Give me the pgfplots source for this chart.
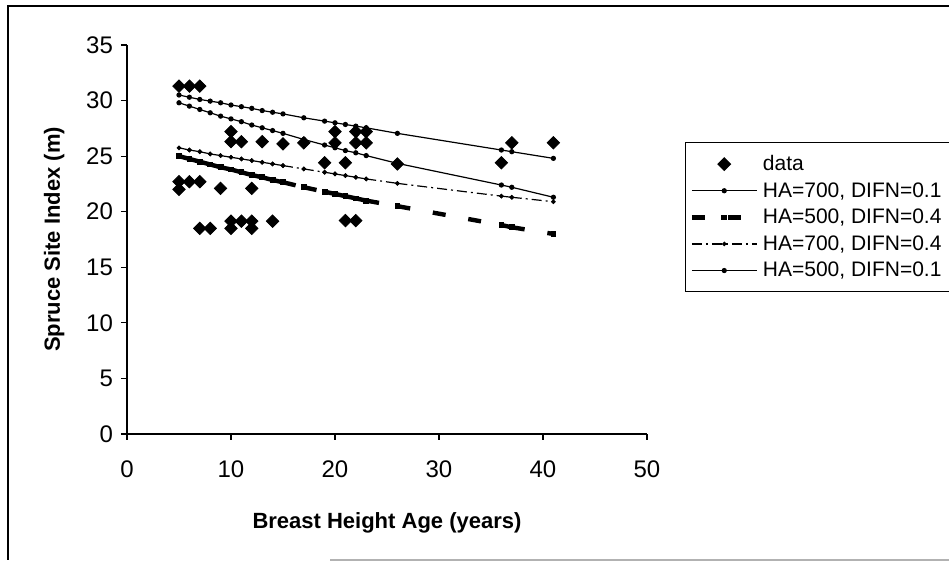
\documentclass[border=0pt]{standalone}
\usepackage{pgfplots}
\pgfplotsset{compat=1.18}
\usepackage{fontspec}
\setmainfont{Liberation Sans}
\begin{document}
\begin{tikzpicture}
\begin{axis}[
  at={(63.5pt,64pt)}, anchor=south west,
  scale only axis, width=260pt, height=194.5pt,
  xmin=0, xmax=50, ymin=0, ymax=35,
  axis lines=left, axis line style={-, line width=0.6pt},
  xtick={0,10,...,50}, ytick={0,5,...,35},
  tick align=outside, major tick length=3pt,
  tick style={black, line width=0.6pt},
  /pgf/number format/assume math mode=true,
  ticklabel style={font=\fontsize{12}{14}\selectfont},
  xticklabel style={yshift=-7pt},
  yticklabel style={xshift=-0.5pt},
  xlabel={Breast Height Age (years)},
  ylabel={Spruce Site Index (m)},
  label style={font=\bfseries\fontsize{11}{13}\selectfont},
  xlabel style={at={(axis description cs:0.5,-0.2288)}, anchor=center},
  ylabel style={at={(axis description cs:-0.1400,0.5)}, anchor=center},
  unbounded coords=jump,
  clip=false,
  legend style={at={(1.073,0.750)}, anchor=north west, draw=black, line width=0.6pt,
    font=\fontsize{10.5}{12}\selectfont, inner xsep=2pt, inner ysep=4pt,
    cells={inner ysep=0.8pt, text height=7.8pt, text depth=2.6pt}},
  legend cell align=left,
  legend image code/.code={\draw[mark repeat=2,mark phase=2] plot coordinates {(0pt,0pt) (16.25pt,0pt) (32.5pt,0pt)};},
]
% data
\addplot[only marks, mark=diamond*, mark size=3.1pt, mark options={xscale=1.333, fill=black, draw=black}] coordinates {
(5,31.3)(6,31.3)(7,31.3)
(10,27.2)(10,26.3)(11,26.3)(13,26.3)(15,26.1)(17,26.2)
(20,27.2)(20,26.2)(22,27.2)(23,27.2)(22,26.2)(23,26.2)
(19,24.4)(21,24.4)(26,24.3)(36,24.4)(37,26.2)(41,26.2)
(5,22.7)(5,22.0)(6,22.7)(7,22.7)(9,22.1)(12,22.1)
(7,18.5)(8,18.5)(10,19.15)(10,18.5)(11,19.15)(12,19.15)(12,18.5)(14,19.15)(21,19.2)(22,19.2)
};
\addlegendentry{data}
% HA=700, DIFN=0.1
\addplot[black, line width=0.6pt, mark=*, mark size=1pt] coordinates {
(5,30.5)(6,30.3)(7,30.1)(8,29.95)(9,29.8)(10,29.6)(11,29.45)(12,29.3)(13,29.1)(14,28.95)(15,28.8)(17,28.45)(19,28.15)(20,28.0)(21,27.85)(22,27.7)(23,27.55)(26,27.05)(36,25.55)(37,25.4)(41,24.8)
};
\addlegendentry{HA=700, DIFN=0.1\hspace*{12pt}}
% HA=500, DIFN=0.4
\addplot[black, line width=2.2pt, dash pattern=on 6.5pt off 11.5pt, mark=square*, mark size=1.2pt, mark options={solid, line width=0.4pt}] coordinates {
(5,25.0)(6,24.75)(6,nan)(6,24.75)(7,24.5)(7,nan)(7,24.5)(8,24.25)(8,nan)(8,24.25)(9,24.0)(9,nan)(9,24.0)(10,23.8)(10,nan)(10,23.8)(11,23.55)(11,nan)(11,23.55)(12,23.3)(12,nan)(12,23.3)(13,23.1)(13,nan)(13,23.1)(14,22.85)(14,nan)(14,22.85)(15,22.65)(15,nan)(15,22.65)(17,22.2)(17,nan)(17,22.2)(19,21.8)(19,nan)(19,21.8)(20,21.6)(20,nan)(20,21.6)(21,21.4)(21,nan)(21,21.4)(22,21.2)(22,nan)(22,21.2)(23,21.0)(23,nan)(23,21.0)(26,20.5)(26,nan)(26,20.5)(36,18.8)(36,nan)(36,18.8)(37,18.6)(37,nan)(37,18.6)(41,18.0)
};
\addlegendentry{HA=500, DIFN=0.4}
% HA=700, DIFN=0.4
\addplot[black, line width=0.6pt, dash pattern=on 5pt off 2pt on 1pt off 2pt, mark=*, mark size=0.8pt, mark options={solid}] coordinates {
(5,25.75)(6,25.55)(6,nan)(6,25.55)(7,25.4)(7,nan)(7,25.4)(8,25.2)(8,nan)(8,25.2)(9,25.05)(9,nan)(9,25.05)(10,24.9)(10,nan)(10,24.9)(11,24.75)(11,nan)(11,24.75)(12,24.6)(12,nan)(12,24.6)(13,24.45)(13,nan)(13,24.45)(14,24.3)(14,nan)(14,24.3)(15,24.15)(15,nan)(15,24.15)(17,23.85)(17,nan)(17,23.85)(19,23.55)(19,nan)(19,23.55)(20,23.4)(20,nan)(20,23.4)(21,23.25)(21,nan)(21,23.25)(22,23.1)(22,nan)(22,23.1)(23,22.95)(23,nan)(23,22.95)(26,22.55)(26,nan)(26,22.55)(36,21.4)(36,nan)(36,21.4)(37,21.3)(37,nan)(37,21.3)(41,20.9)
};
\addlegendentry{HA=700, DIFN=0.4}
% HA=500, DIFN=0.1
\addplot[black, line width=0.6pt, mark=*, mark size=1pt] coordinates {
(5,29.8)(6,29.5)(7,29.2)(8,28.9)(9,28.6)(10,28.35)(11,28.1)(12,27.8)(13,27.55)(14,27.3)(15,27.05)(17,26.5)(19,26.0)(20,25.75)(21,25.5)(22,25.3)(23,25.05)(26,24.35)(36,22.4)(37,22.2)(41,21.3)
};
\addlegendentry{HA=500, DIFN=0.1}
\end{axis}
\draw[line width=0.75pt] (4pt,1pt) -- (4pt,278pt) -- (480pt,278pt);
\draw[line width=0.6pt, gray!60] (165pt,1pt) -- (480pt,1pt);
\pgfresetboundingbox
\path[use as bounding box] (0,0) rectangle (474.5pt,281pt);
\end{tikzpicture}
\end{document}
